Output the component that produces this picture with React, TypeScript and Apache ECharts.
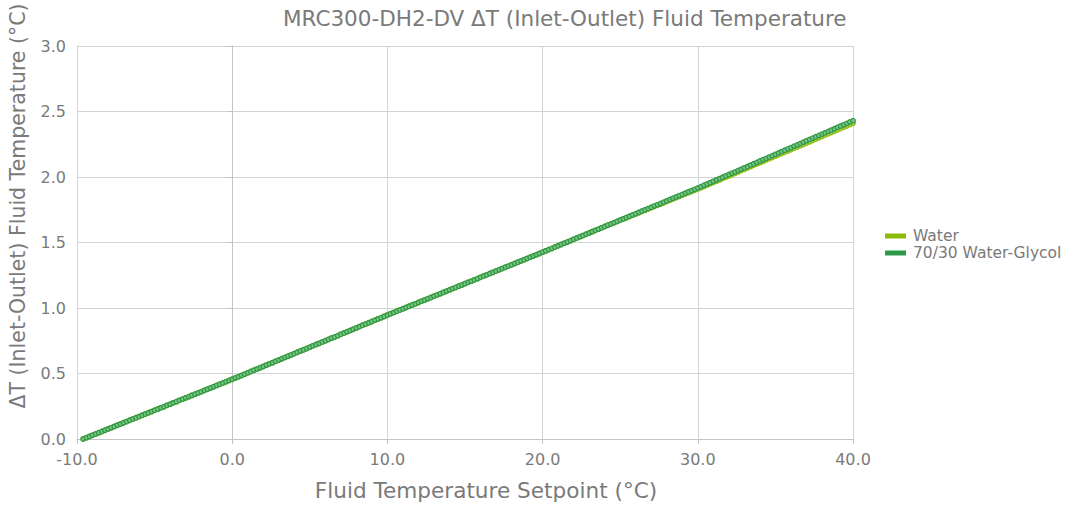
import React, { useEffect, useRef } from "react";
import * as echarts from "echarts";

const chartTitle = "MRC300-DH2-DV ΔT (Inlet-Outlet) Fluid Temperature";
const xAxisTitle = "Fluid Temperature Setpoint (°C)";
const yAxisTitle = "ΔT (Inlet-Outlet) Fluid Temperature (°C)";
const seriesNames = ["Water", "70/30 Water-Glycol"];
const xTicks = { min: -10, max: 40, interval: 10 };
const yTicks = { min: 0, max: 3, interval: 0.5 };

const setpoints = [
  -9.6, -9.4, -9.2,
  -9.0, -8.8, -8.6, -8.4, -8.2,
  -8.0, -7.8, -7.6, -7.4, -7.2,
  -7.0, -6.8, -6.6, -6.4, -6.2,
  -6.0, -5.8, -5.6, -5.4, -5.2,
  -5.0, -4.8, -4.6, -4.4, -4.2,
  -4.0, -3.8, -3.6, -3.4, -3.2,
  -3.0, -2.8, -2.6, -2.4, -2.2,
  -2.0, -1.8, -1.6, -1.4, -1.2,
  -1.0, -0.8, -0.6, -0.4, -0.2,
  0.0, 0.2, 0.4, 0.6, 0.8,
  1.0, 1.2, 1.4, 1.6, 1.8,
  2.0, 2.2, 2.4, 2.6, 2.8,
  3.0, 3.2, 3.4, 3.6, 3.8,
  4.0, 4.2, 4.4, 4.6, 4.8,
  5.0, 5.2, 5.4, 5.6, 5.8,
  6.0, 6.2, 6.4, 6.6, 6.8,
  7.0, 7.2, 7.4, 7.6, 7.8,
  8.0, 8.2, 8.4, 8.6, 8.8,
  9.0, 9.2, 9.4, 9.6, 9.8,
  10.0, 10.2, 10.4, 10.6, 10.8,
  11.0, 11.2, 11.4, 11.6, 11.8,
  12.0, 12.2, 12.4, 12.6, 12.8,
  13.0, 13.2, 13.4, 13.6, 13.8,
  14.0, 14.2, 14.4, 14.6, 14.8,
  15.0, 15.2, 15.4, 15.6, 15.8,
  16.0, 16.2, 16.4, 16.6, 16.8,
  17.0, 17.2, 17.4, 17.6, 17.8,
  18.0, 18.2, 18.4, 18.6, 18.8,
  19.0, 19.2, 19.4, 19.6, 19.8,
  20.0, 20.2, 20.4, 20.6, 20.8,
  21.0, 21.2, 21.4, 21.6, 21.8,
  22.0, 22.2, 22.4, 22.6, 22.8,
  23.0, 23.2, 23.4, 23.6, 23.8,
  24.0, 24.2, 24.4, 24.6, 24.8,
  25.0, 25.2, 25.4, 25.6, 25.8,
  26.0, 26.2, 26.4, 26.6, 26.8,
  27.0, 27.2, 27.4, 27.6, 27.8,
  28.0, 28.2, 28.4, 28.6, 28.8,
  29.0, 29.2, 29.4, 29.6, 29.8,
  30.0, 30.2, 30.4, 30.6, 30.8,
  31.0, 31.2, 31.4, 31.6, 31.8,
  32.0, 32.2, 32.4, 32.6, 32.8,
  33.0, 33.2, 33.4, 33.6, 33.8,
  34.0, 34.2, 34.4, 34.6, 34.8,
  35.0, 35.2, 35.4, 35.6, 35.8,
  36.0, 36.2, 36.4, 36.6, 36.8,
  37.0, 37.2, 37.4, 37.6, 37.8,
  38.0, 38.2, 38.4, 38.6, 38.8,
  39.0, 39.2, 39.4, 39.6, 39.8,
  40.0,
];

const glycolDeltaT = [
  0, 0.010, 0.019, 0.029, 0.038, 0.048, 0.057, 0.067, 0.076, 0.086,
  0.095, 0.105, 0.114, 0.124, 0.133, 0.143, 0.152, 0.162, 0.171, 0.181,
  0.190, 0.200, 0.209, 0.219, 0.228, 0.238, 0.247, 0.257, 0.266, 0.276,
  0.285, 0.295, 0.304, 0.314, 0.323, 0.333, 0.342, 0.352, 0.361, 0.371,
  0.380, 0.390, 0.399, 0.409, 0.418, 0.428, 0.437, 0.447, 0.456,
  0.466, 0.476, 0.485, 0.495, 0.505, 0.515, 0.525, 0.534, 0.544, 0.554,
  0.564, 0.574, 0.583, 0.593, 0.603, 0.613, 0.623, 0.632, 0.642, 0.652,
  0.662, 0.672, 0.681, 0.691, 0.701, 0.711, 0.721, 0.730, 0.740, 0.750,
  0.760, 0.770, 0.779, 0.789, 0.799, 0.809, 0.819, 0.828, 0.838, 0.848,
  0.858, 0.868, 0.877, 0.887, 0.897, 0.907, 0.917, 0.926, 0.936, 0.946,
  0.956, 0.965, 0.975, 0.984, 0.994, 1.004, 1.013, 1.023, 1.032, 1.042,
  1.052, 1.061, 1.071, 1.080, 1.090, 1.100, 1.109, 1.119, 1.128, 1.138,
  1.148, 1.157, 1.167, 1.176, 1.186, 1.196, 1.205, 1.215, 1.224, 1.234,
  1.244, 1.253, 1.263, 1.272, 1.282, 1.292, 1.301, 1.311, 1.320, 1.330,
  1.340, 1.349, 1.359, 1.368, 1.378, 1.388, 1.397, 1.407, 1.416, 1.426,
  1.436, 1.446, 1.455, 1.465, 1.475, 1.485, 1.495, 1.504, 1.514, 1.524,
  1.534, 1.544, 1.553, 1.563, 1.573, 1.583, 1.593, 1.602, 1.612, 1.622,
  1.632, 1.642, 1.651, 1.661, 1.671, 1.681, 1.691, 1.700, 1.710, 1.720,
  1.730, 1.740, 1.749, 1.759, 1.769, 1.779, 1.789, 1.798, 1.808, 1.818,
  1.828, 1.838, 1.847, 1.857, 1.867, 1.877, 1.887, 1.896, 1.906, 1.916,
  1.926, 1.937, 1.947, 1.957, 1.967, 1.978, 1.988, 1.998, 2.009, 2.019,
  2.029, 2.039, 2.050, 2.060, 2.070, 2.080, 2.091, 2.101, 2.111, 2.122,
  2.132, 2.142, 2.152, 2.163, 2.173, 2.183, 2.194, 2.204, 2.214, 2.224,
  2.235, 2.245, 2.255, 2.266, 2.276, 2.286, 2.296, 2.307, 2.317, 2.327,
  2.337, 2.348, 2.358, 2.368, 2.379, 2.389, 2.399, 2.409, 2.420, 2.430,
];

const waterDeltaT = [
  0, 0.010, 0.019, 0.029, 0.038, 0.048, 0.057, 0.067, 0.076, 0.086,
  0.095, 0.105, 0.114, 0.124, 0.133, 0.143, 0.152, 0.162, 0.171, 0.181,
  0.190, 0.200, 0.209, 0.219, 0.228, 0.238, 0.247, 0.257, 0.266, 0.276,
  0.285, 0.295, 0.304, 0.314, 0.323, 0.333, 0.342, 0.352, 0.361, 0.371,
  0.380, 0.390, 0.399, 0.409, 0.418, 0.428, 0.437, 0.447, 0.456,
  0.466, 0.476, 0.485, 0.495, 0.505, 0.515, 0.525, 0.534, 0.544, 0.554,
  0.564, 0.574, 0.583, 0.593, 0.603, 0.613, 0.623, 0.632, 0.642, 0.652,
  0.662, 0.672, 0.681, 0.691, 0.701, 0.711, 0.721, 0.730, 0.740, 0.750,
  0.760, 0.770, 0.779, 0.789, 0.799, 0.809, 0.819, 0.828, 0.838, 0.848,
  0.858, 0.868, 0.877, 0.887, 0.897, 0.907, 0.917, 0.926, 0.936, 0.946,
  0.956, 0.965, 0.975, 0.984, 0.994, 1.004, 1.013, 1.023, 1.032, 1.042,
  1.052, 1.061, 1.071, 1.080, 1.090, 1.100, 1.109, 1.119, 1.128, 1.138,
  1.148, 1.157, 1.167, 1.176, 1.186, 1.196, 1.205, 1.215, 1.224, 1.234,
  1.244, 1.253, 1.263, 1.272, 1.282, 1.292, 1.301, 1.311, 1.320, 1.330,
  1.340, 1.349, 1.359, 1.368, 1.378, 1.388, 1.397, 1.407, 1.416, 1.426,
  1.436, 1.446, 1.455, 1.465, 1.475, 1.485, 1.495, 1.504, 1.514, 1.524,
  1.534, 1.544, 1.553, 1.563, 1.573, 1.583, 1.593, 1.602, 1.612, 1.622,
  1.632, 1.641, 1.651, 1.660, 1.670, 1.679, 1.689, 1.698, 1.708, 1.717,
  1.727, 1.736, 1.746, 1.755, 1.765, 1.774, 1.784, 1.794, 1.803, 1.813,
  1.822, 1.832, 1.841, 1.851, 1.860, 1.870, 1.879, 1.889, 1.898, 1.908,
  1.918, 1.928, 1.938, 1.948, 1.958, 1.968, 1.978, 1.988, 1.998, 2.008,
  2.018, 2.028, 2.039, 2.049, 2.059, 2.069, 2.079, 2.089, 2.099, 2.109,
  2.119, 2.129, 2.139, 2.149, 2.159, 2.169, 2.179, 2.189, 2.199, 2.209,
  2.219, 2.229, 2.239, 2.249, 2.259, 2.269, 2.279, 2.290, 2.300, 2.310,
  2.320, 2.330, 2.340, 2.350, 2.360, 2.370, 2.380, 2.390, 2.400, 2.410,
];

const FONT = "DejaVu Sans";
const TEXT = "#7a7a7a";
const GRID = "#d3d3d3";
const AXIS = "#c4c4c4";
const WATER = "#8cbb0c";
const GLYCOL = "#2f9a45";

const toPairs = (ys: number[]) => setpoints.map((x, i) => [x, ys[i]]);

export default function App() {
  const ref = useRef<HTMLDivElement>(null);
  useEffect(() => {
    if (!ref.current) return;
    const chart = echarts.init(ref.current, null, { renderer: "svg" });
    chart.setOption({
      animation: false,
      backgroundColor: "#ffffff",
      textStyle: { fontFamily: FONT },
      title: {
        text: chartTitle,
        left: 278,
        top: 2,
        textStyle: { fontFamily: FONT, fontSize: 21.5, fontWeight: "normal", color: TEXT },
      },
      legend: {
        orient: "vertical",
        left: 880,
        top: 223,
        itemWidth: 21,
        itemHeight: 5,
        itemGap: 1,
        icon: "rect",
        data: [
          { name: seriesNames[0], icon: "rect", itemStyle: { color: WATER, borderWidth: 0 } },
          { name: seriesNames[1], icon: "rect", itemStyle: { color: GLYCOL, borderWidth: 0 } },
        ],
        textStyle: { fontFamily: FONT, fontSize: 15.5, color: TEXT, padding: [0, 0, 0, 2] },
      },
      grid: { left: 77, right: 212, top: 46, bottom: 67, containLabel: false },
      xAxis: {
        type: "value",
        min: xTicks.min,
        max: xTicks.max,
        interval: xTicks.interval,
        axisLine: { show: true, lineStyle: { color: AXIS, width: 1 } },
        axisTick: { show: true, length: 5, lineStyle: { color: AXIS } },
        splitLine: { show: true, lineStyle: { color: GRID, width: 1 } },
        axisLabel: {
          fontFamily: FONT,
          fontSize: 16,
          color: TEXT,
          margin: 12,
          formatter: (v: number) => v.toFixed(1),
        },
      },
      yAxis: {
        type: "value",
        min: yTicks.min,
        max: yTicks.max,
        interval: yTicks.interval,
        axisLine: { show: true, lineStyle: { color: AXIS, width: 1 } },
        axisTick: { show: true, length: 5, lineStyle: { color: AXIS } },
        splitLine: { show: true, lineStyle: { color: GRID, width: 1 } },
        axisLabel: {
          fontFamily: FONT,
          fontSize: 16,
          color: TEXT,
          margin: 11,
          formatter: (v: number) => v.toFixed(1),
        },
      },
      graphic: [
        {
          type: "text",
          x: 18,
          y: 206,
          rotation: Math.PI / 2,
          silent: true,
          style: {
            text: yAxisTitle,
            fontFamily: FONT,
            fontSize: 20.5,
            fill: TEXT,
            align: "center",
            verticalAlign: "middle",
          },
        },
        {
          type: "text",
          x: 486,
          y: 490,
          silent: true,
          style: {
            text: xAxisTitle,
            fontFamily: FONT,
            fontSize: 21.6,
            fill: TEXT,
            align: "center",
            verticalAlign: "middle",
          },
        },
      ],
      series: [
        {
          name: seriesNames[0],
          type: "line",
          data: toPairs(waterDeltaT),
          symbol: "circle",
          symbolSize: 4.5,
          showSymbol: true,
          color: WATER,
          lineStyle: { width: 2, color: WATER },
          itemStyle: { color: "#b9d85e", borderColor: WATER, borderWidth: 1.3 },
          emphasis: { disabled: true },
          silent: true,
          z: 2,
        },
        {
          name: seriesNames[1],
          type: "line",
          data: toPairs(glycolDeltaT),
          symbol: "circle",
          symbolSize: 4.5,
          showSymbol: true,
          color: GLYCOL,
          lineStyle: { width: 2, color: GLYCOL },
          itemStyle: { color: "#7cc488", borderColor: GLYCOL, borderWidth: 1.3 },
          emphasis: { disabled: true },
          silent: true,
          z: 3,
        },
      ],
    });
    return () => chart.dispose();
  }, []);
  return (
    <div
      ref={ref}
      style={{ position: "fixed", left: 0, top: 0, width: 1065, height: 506, background: "#fff" }}
    />
  );
}
